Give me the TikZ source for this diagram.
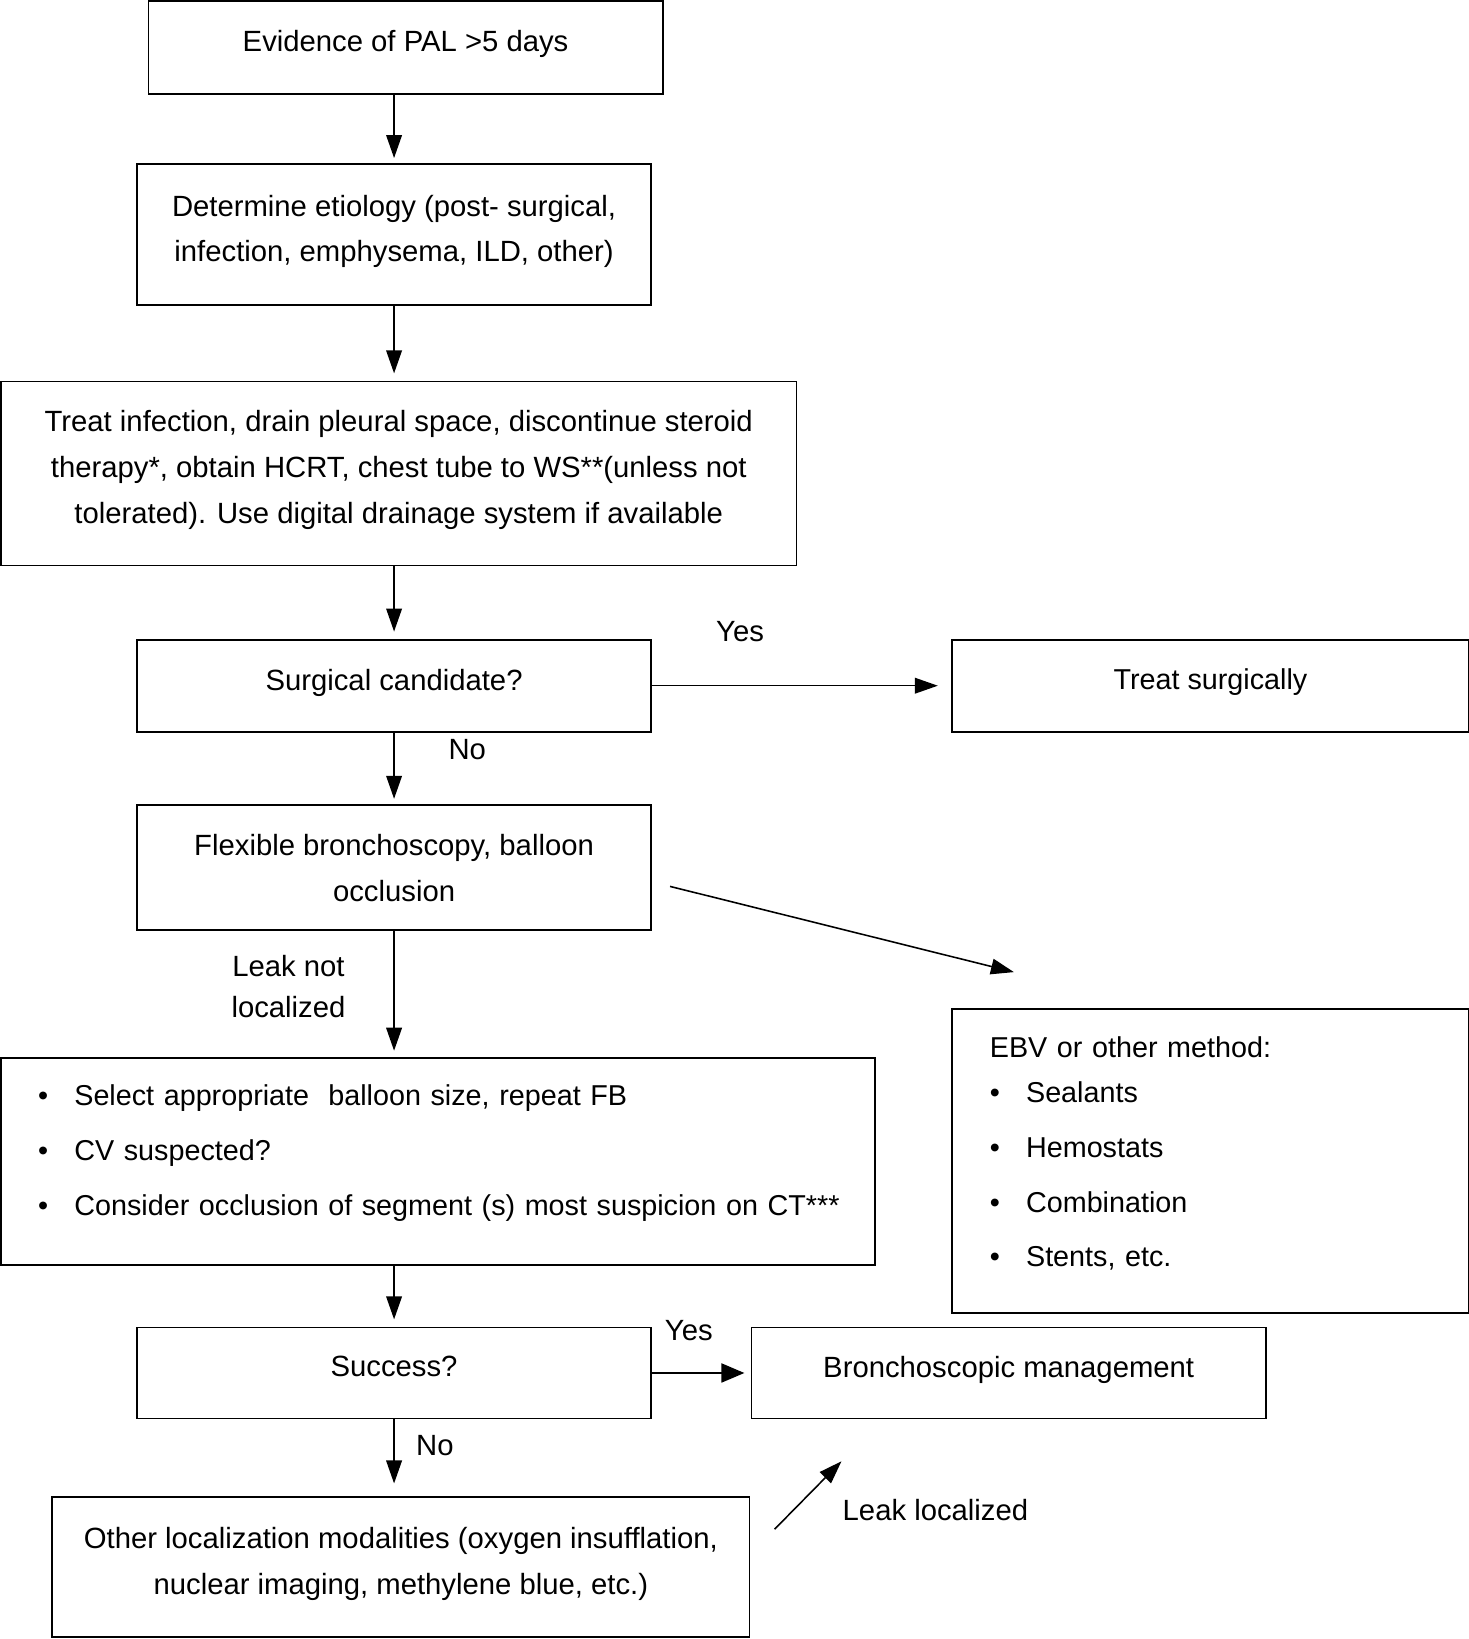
\documentclass[tikz,border=0pt]{standalone}
\usepackage{fontspec}
\setmainfont{Liberation Sans}
\usetikzlibrary{arrows.meta,calc}
\begin{document}
\begin{tikzpicture}[x=1pt,y=-1pt,
  box/.style={draw, line width=1.6pt, inner sep=0pt, align=center, font=\fontsize{28}{44}\selectfont},
  boxs/.style={box, font=\fontsize{27.5}{44}\selectfont},
  up/.style={text depth=12pt},
  lbl/.style={font=\fontsize{28}{44}\selectfont, inner sep=0pt},
  arr/.style={line width=1.5pt, -{Triangle[length=22pt,width=15pt]}},
  arrb/.style={line width=2.4pt, -{Triangle[length=22pt,width=18pt]}}]
\useasboundingbox (0,0) rectangle (1405,1568);
\node[box, up, minimum width=492pt, minimum height=89pt] (b1) at (388,45.5) {Evidence of PAL >5 days};
\node[box, up, minimum width=492pt, minimum height=135pt] (b2) at (377,224.5) {Determine etiology (post- surgical,\\ infection, emphysema, ILD, other)};
\node[box, up, minimum width=761pt, minimum height=176pt] (b3) at (381.5,453) {Treat infection, drain pleural space, discontinue steroid\\ therapy*, obtain HCRT, chest tube to WS**(unless not\\ tolerated). Use digital drainage system if available};
\node[box, up, minimum width=492pt, minimum height=88pt] (b4) at (377,656) {Surgical candidate?};
\node[boxs, up, minimum width=494pt, minimum height=88pt] (b5) at (1158,656) {Treat surgically};
\node[box, minimum width=492pt, minimum height=120pt] (b6) at (377,830) {Flexible bronchoscopy, balloon\\ occlusion};
\node[boxs, minimum width=836pt, minimum height=198pt, text width=765pt, align=left] (b7) at (419,1111) {%
\begin{tabular}{@{}l@{\hspace{25pt}}l@{}}
\textbullet & Select appropriate~ balloon size, repeat FB\\[8.5pt]
\textbullet & CV suspected?\\[8.5pt]
\textbullet & Consider occlusion of segment (s) most suspicion on CT***\\[19pt]
\end{tabular}};
\node[boxs, minimum width=494pt, minimum height=291pt, text width=422pt, align=left] (b8) at (1158,1110.5) {%
\begin{tabular}{@{}l@{\hspace{25pt}}l@{}}
\multicolumn{2}{@{}l@{}}{EBV or other method:}\\[-1pt]
\textbullet & Sealants\\[8.5pt]
\textbullet & Hemostats\\[8.5pt]
\textbullet & Combination\\[8.5pt]
\textbullet & Stents, etc.\\[15pt]
\end{tabular}};
\node[box, up, minimum width=492pt, minimum height=87pt] (b9) at (377,1313.5) {Success?};
\node[box, up, minimum width=492pt, minimum height=87pt] (b10) at (965,1313.5) {Bronchoscopic management};
\node[box, up, minimum width=667pt, minimum height=134pt] (b11) at (383.5,1499) {Other localization modalities (oxygen insufflation,\\ nuclear imaging, methylene blue, etc.)};
% labels
\node[lbl] (yes1) at (708,604) {Yes};
\node[lbl] (no1) at (447,717) {No};
\node[lbl, align=center, font=\fontsize{28}{39}\selectfont] (lnl) at (276,943.5) {Leak not\\ localized};
\node[lbl] (yes2) at (659,1273) {Yes};
\node[lbl] (no2) at (416,1383) {No};
\node[lbl, anchor=west] (ll) at (806,1445) {Leak localized};
% free coordinates
\coordinate (d1s) at (641,848);
\coordinate (d1e) at (970,930);
\coordinate (d2s) at (741,1463);
\coordinate (d2e) at (805,1398);
% connectors
\draw[arr, shorten >=5pt] (b1.south -| b2.north) -- (b2.north);
\draw[arr, shorten >=7pt] (b2.south) -- (b2.south |- b3.north);
\draw[arr, shorten >=7pt] (b3.south -| b4.north) -- (b4.north);
\draw[arr, shorten >=13pt] (b4.east) -- (b5.west);
\draw[arr, shorten >=5pt] (b4.south) -- (b6.north);
\draw[arr] (d1s) -- (d1e);
\draw[arr, shorten >=6pt] (b6.south) -- (b6.south |- b7.north);
\draw[arr, shorten >=7pt] (b7.south -| b9.north) -- (b9.north);
\draw[arrb, shorten >=6pt] (b9.east) -- (b10.west);
\draw[arr, shorten >=12pt] (b9.south) -- (b9.south |- b11.north);
\draw[arr] (d2s) -- (d2e);
\end{tikzpicture}
\end{document}
